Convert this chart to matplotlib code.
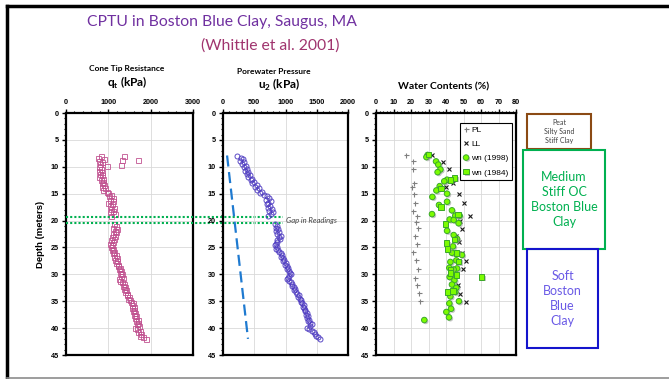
import numpy as np
import matplotlib.pyplot as plt
import matplotlib.patheffects as pe
from matplotlib.lines import Line2D
from matplotlib.patches import Rectangle
from matplotlib.transforms import blended_transform_factory

plt.rcParams['font.family'] = 'Liberation Sans'
plt.rcParams['mathtext.fontset'] = 'custom'
plt.rcParams['mathtext.rm'] = 'Lato'
plt.rcParams['mathtext.bf'] = 'Lato:bold'

# CPTU sounding (depth in m, qt and u2 in kPa)
cpt_depth = [8.0, 8.3, 8.6, 8.9, 9.2, 9.5, 9.8, 10.1, 10.4, 10.7, 11.0, 11.3, 11.6, 11.9,
             12.2, 12.5, 12.8, 13.1, 13.4, 13.7, 14.0, 14.3, 14.6, 14.9, 15.2, 15.5, 15.8,
             16.1, 16.4, 16.7, 17.0, 17.3, 17.6, 17.9, 18.2, 18.5, 18.8, 19.1,
             20.7, 21.0, 21.3, 21.6, 21.9, 22.2, 22.5, 22.8, 23.1, 23.4, 23.7, 24.0, 24.3,
             24.6, 24.9, 25.2, 25.5, 25.8, 26.1, 26.4, 26.7, 27.0, 27.3, 27.6, 27.9, 28.2,
             28.5, 28.8, 29.1, 29.4, 29.7, 30.0, 30.3, 30.6, 30.9, 31.2, 31.5, 31.8, 32.1,
             32.4, 32.7, 33.0, 33.3, 33.6, 33.9, 34.2, 34.5, 34.8, 35.1, 35.4, 35.7, 36.0,
             36.3, 36.6, 36.9, 37.2, 37.5, 37.8, 38.1, 38.4, 38.7, 39.0, 39.3, 39.6, 39.9,
             40.2, 40.5, 40.8, 41.1, 41.4, 41.7, 42.0]
qt = [820, 760, 900, 780, 850, 800, 960, 770, 830, 790, 860, 800, 840, 790,
      870, 820, 880, 840, 900, 860, 930, 870, 960, 1000, 1060, 1010, 1100,
      1050, 1120, 1000, 1080, 1040, 1130, 1060, 1110, 1050, 1150, 1060,
      1130, 1180, 1120, 1200, 1150, 1190, 1110, 1160, 1090, 1130, 1060, 1100, 1050,
      1090, 1070, 1120, 1080, 1140, 1110, 1170, 1130, 1200, 1150, 1210, 1190, 1240,
      1220, 1270, 1250, 1290, 1270, 1320, 1300, 1340, 1250, 1280, 1330, 1360, 1340,
      1390, 1370, 1420, 1400, 1450, 1430, 1480, 1460, 1510, 1530, 1580, 1550, 1600,
      1560, 1610, 1590, 1640, 1610, 1660, 1630, 1690, 1660, 1710, 1680, 1730, 1620,
      1670, 1750, 1710, 1770, 1750, 1810, 1890]
u2 = [230, 280, 320, 270, 330, 300, 360, 340, 380, 350, 400, 380, 430, 400,
      460, 440, 500, 470, 540, 510, 580, 550, 620, 590, 650, 700, 740,
      690, 760, 720, 700, 750, 720, 780, 740, 800, 760, 720,
      830, 860, 840, 880, 850, 900, 870, 920, 890, 910, 870, 860, 840,
      830, 860, 850, 880, 900, 920, 940, 930, 960, 980, 960, 1000, 990,
      1020, 1040, 1030, 1060, 1070, 1080, 1060, 1040, 1020, 1060, 1090, 1110, 1100,
      1130, 1150, 1140, 1170, 1190, 1210, 1200, 1230, 1250, 1240, 1270, 1290, 1280,
      1300, 1320, 1310, 1340, 1330, 1360, 1350, 1380, 1360, 1390, 1420, 1400, 1350,
      1380, 1420, 1450, 1470, 1490, 1520, 1550]
qt_spike_depth = [8.0, 8.7, 8.8, 9.7]
qt_spike = [1370, 1690, 1330, 1300]

hydro_depth = [7.9, 42.0]
hydro_u = [65, 400]

gap_depths = [19.3, 20.5]

# water contents (depth in m, value in %)
pl_depth = [7.8, 9.0, 10.4, 13.0, 13.8, 15.1, 16.8, 18.3, 19.2, 20.3, 21.4, 22.8, 24.3,
            25.9, 27.4, 29.0, 30.6, 32.0, 33.5, 35.0]
pl = [17.1, 21.1, 21.0, 21.5, 20.4, 21.9, 22.1, 21.3, 23.6, 23.0, 24.2, 22.5, 23.4,
      21.0, 23.0, 24.0, 22.3, 23.6, 24.6, 25.3]
ll_depth = [7.8, 9.1, 10.5, 13.1, 13.8, 15.1, 16.8, 19.1, 20.0, 21.5, 22.8, 23.9, 26.0,
            27.5, 29.0, 31.9, 33.6, 35.1]
ll = [32.0, 38.1, 41.9, 44.2, 40.2, 47.6, 50.1, 53.9, 48.2, 49.3, 45.7, 47.4, 49.1,
      51.4, 49.7, 46.7, 47.8, 51.4]
wn98_depth = [7.8, 8.2, 9.0, 9.6, 10.5, 11.0, 12.4, 12.7, 13.6, 14.4, 15.0, 15.6, 16.5,
              17.1, 18.1, 18.8, 19.1, 19.1, 19.8, 19.9, 20.5, 21.9, 22.7, 23.4, 24.8,
              26.0, 26.4, 27.4, 27.7, 28.8, 28.9, 29.1, 30.5, 31.1, 31.9, 32.5, 33.3,
              34.1, 35.0, 35.4, 36.4, 37.0, 38.0, 38.5]
wn98 = [29.5, 28.8, 34.3, 35.6, 36.8, 35.2, 40.6, 39.0, 36.4, 34.5, 40.6, 32.2, 40.6,
        36.0, 43.4, 32.0, 45.3, 47.8, 42.1, 44.4, 47.2, 40.6, 44.4, 46.3, 44.0,
        43.4, 49.1, 45.9, 42.5, 41.9, 46.3, 44.4, 42.1, 44.8, 43.4, 45.9, 45.3,
        42.5, 47.4, 41.9, 42.9, 40.2, 41.7, 27.6]
wn84_depth = [7.7, 12.1, 12.5, 14.0, 17.5, 18.9, 20.6, 23.5, 24.2, 25.3, 26.0, 27.6,
              29.1, 29.8, 30.1, 30.5, 33.1, 33.3]
wn84 = [29.9, 44.8, 42.5, 37.1, 37.1, 46.7, 39.6, 44.8, 40.4, 40.8, 46.1, 47.1,
        42.5, 42.5, 45.9, 60.2, 44.0, 40.9]

# soil profile
layer_names = ['Peat\nSilty Sand\nStiff Clay', 'Medium\nStiff OC\nBoston Blue\nClay',
               'Soft\nBoston\nBlue\nClay']
layer_top = [0.2, 6.85, 25.2]
layer_bottom = [6.7, 25.2, 43.7]

W, H = 669, 379
fig = plt.figure(figsize=(W / 100, H / 100), dpi=100)


def px_axes(left, right, top, bottom):
    """Add axes from pixel box."""
    return fig.add_axes([left / W, 1 - bottom / H, (right - left) / W, (bottom - top) / H])


def style_depth_axis(ax, xmax, xstep, xminor):
    ax.set_facecolor('none')
    ax.set_xlim(0, xmax)
    ax.set_ylim(45, 0)
    ax.xaxis.tick_top()
    ax.set_xticks(np.arange(0, xmax + 1, xstep))
    ax.set_xticks(np.arange(0, xmax + 1, xminor), minor=True)
    ax.set_yticks(np.arange(0, 46, 5))
    ax.set_yticks(np.arange(0, 46, 1), minor=True)
    ax.tick_params(which='major', direction='out', length=3, width=1, labelsize=5.2, pad=2)
    ax.tick_params(which='minor', direction='out', length=1.8, width=0.8)
    for lab in ax.get_xticklabels() + ax.get_yticklabels():
        lab.set_fontweight('bold')
    ax.grid(True, which='major', color='#d9d9d9', lw=0.6)
    ax.set_axisbelow(True)
    for sp in ax.spines.values():
        sp.set_linewidth(1.6)


# Cone tip resistance
ax1 = px_axes(66, 193, 113, 355)
style_depth_axis(ax1, 3000, 1000, 200)
ax1.plot(qt, cpt_depth, 's', ms=3.6, mfc='none', mec='#c0508f', mew=0.7, alpha=0.85)
ax1.plot(qt_spike, qt_spike_depth, 's', ms=3.6, mfc='none', mec='#c0508f', mew=0.7, alpha=0.85)
ax1.set_ylabel('Depth (meters)', fontsize=6.8, fontweight='bold', labelpad=4)

# Porewater pressure
ax2 = px_axes(223, 348, 113, 355)
style_depth_axis(ax2, 2000, 500, 100)
ax2.plot(hydro_u, hydro_depth, color='#1f7ad0', lw=1.6, ls=(0, (5, 2.5)))
ax2.plot(u2, cpt_depth, 'o', ms=3.6, mfc='none', mec='#4b38c0', mew=0.7, alpha=0.9)
ax2.text(1000, 19.9, 'Gap in Readings', fontsize=5.5, style='italic', color='#404040',
         family='Lato', va='center', ha='left')

# gap markers drawn from panel 1 across to panel 2
tr = blended_transform_factory(ax1.transAxes, ax1.transData)
for d in gap_depths:
    ax1.plot([0, 1.71], [d, d], color='#00b050', lw=1.5, ls=(0, (1, 1)),
             transform=tr, clip_on=False, zorder=5)

# Water contents
ax3 = px_axes(376, 516, 113, 355)
style_depth_axis(ax3, 80, 10, 2)
shadow = [pe.SimplePatchShadow(offset=(1, -1), shadow_rgbFace='#8c8c8c', alpha=0.5), pe.Normal()]
ax3.plot(pl, pl_depth, '+', ms=3.6, color='#7f7f7f', mew=0.8, label='PL')
ax3.plot(ll, ll_depth, 'x', ms=2.8, color='#1a1a1a', mew=0.8, label='LL')
ax3.plot(wn98, wn98_depth, 'o', ms=4, mfc='#7cfc00', mec='#3aa82a', mew=0.7,
         label='wn (1998)', path_effects=shadow)
ax3.plot(wn84, wn84_depth, 's', ms=4, mfc='#7cfc00', mec='#3aa82a', mew=0.7,
         label='wn (1984)', path_effects=shadow)
leg = ax3.legend(loc='upper right', bbox_to_anchor=(0.972, 0.958), fontsize=6,
                 frameon=True, fancybox=False, framealpha=1, edgecolor='black',
                 labelspacing=0.75, handlelength=0.7, handletextpad=0.3, borderpad=0.4,
                 borderaxespad=0)
leg.get_frame().set_linewidth(0.8)

# panel headings
hfont = dict(family='Lato', fontweight='bold', color='black', ha='center', va='center')
fig.text(127 / W, 1 - 69 / H, 'Cone Tip Resistance', fontsize=6, **hfont)
fig.text(127 / W, 1 - 83 / H, r'q$_{\mathbf{t}}$ (kPa)', fontsize=8.5, **hfont)
fig.text(274 / W, 1 - 72 / H, 'Porewater Pressure', fontsize=6, **hfont)
fig.text(279 / W, 1 - 85 / H, r'u$_{\mathbf{2}}$ (kPa)', fontsize=8.5, **hfont)
fig.text(444 / W, 1 - 87 / H, 'Water Contents (%)', fontsize=7.5, **hfont)

# slide title
fig.text(222 / W, 1 - 22 / H, 'CPTU in Boston Blue Clay, Saugus, MA', fontsize=11.3,
         family='Lato', color='#7030a0', ha='center', va='center')
fig.text(270 / W, 1 - 46 / H, '(Whittle et al. 2001)', fontsize=11.3,
         family='Lato', color='#a0346e', ha='center', va='center')

# soil profile boxes
ax4 = px_axes(520, 610, 113, 355)
ax4.set_xlim(0, 1)
ax4.set_ylim(45, 0)
ax4.axis('off')
box_x = [(0.078, 0.789), (0.033, 0.944), (0.078, 0.867)]
box_edge = ['#8b4a14', '#00b050', '#1414cc']
text_color = ['#404040', '#00b050', '#6a5ae6']
text_size = [5, 9, 9]
for name, top, bot, (x0, x1), ec, tc, fs in zip(layer_names, layer_top, layer_bottom,
                                                box_x, box_edge, text_color, text_size):
    ax4.add_patch(Rectangle((x0, top), x1 - x0, bot - top, fill=False, ec=ec, lw=1.5,
                            clip_on=False))
    ax4.text((x0 + x1) / 2, (top + bot) / 2, name, color=tc, fontsize=fs, family='Lato',
             ha='center', va='center', linespacing=1.3)

# slide frame
fig.add_artist(Line2D([7 / W, 1], [1 - 6 / H, 1 - 6 / H], color='black', lw=2.5))
fig.add_artist(Line2D([7 / W, 7 / W], [1 - 6 / H, 0], color='black', lw=2.5))
fig.add_artist(Line2D([7 / W, 1], [1.5 / H, 1.5 / H], color='#8c8c8c', lw=1.2))

fig.savefig('out.png', dpi=100)
